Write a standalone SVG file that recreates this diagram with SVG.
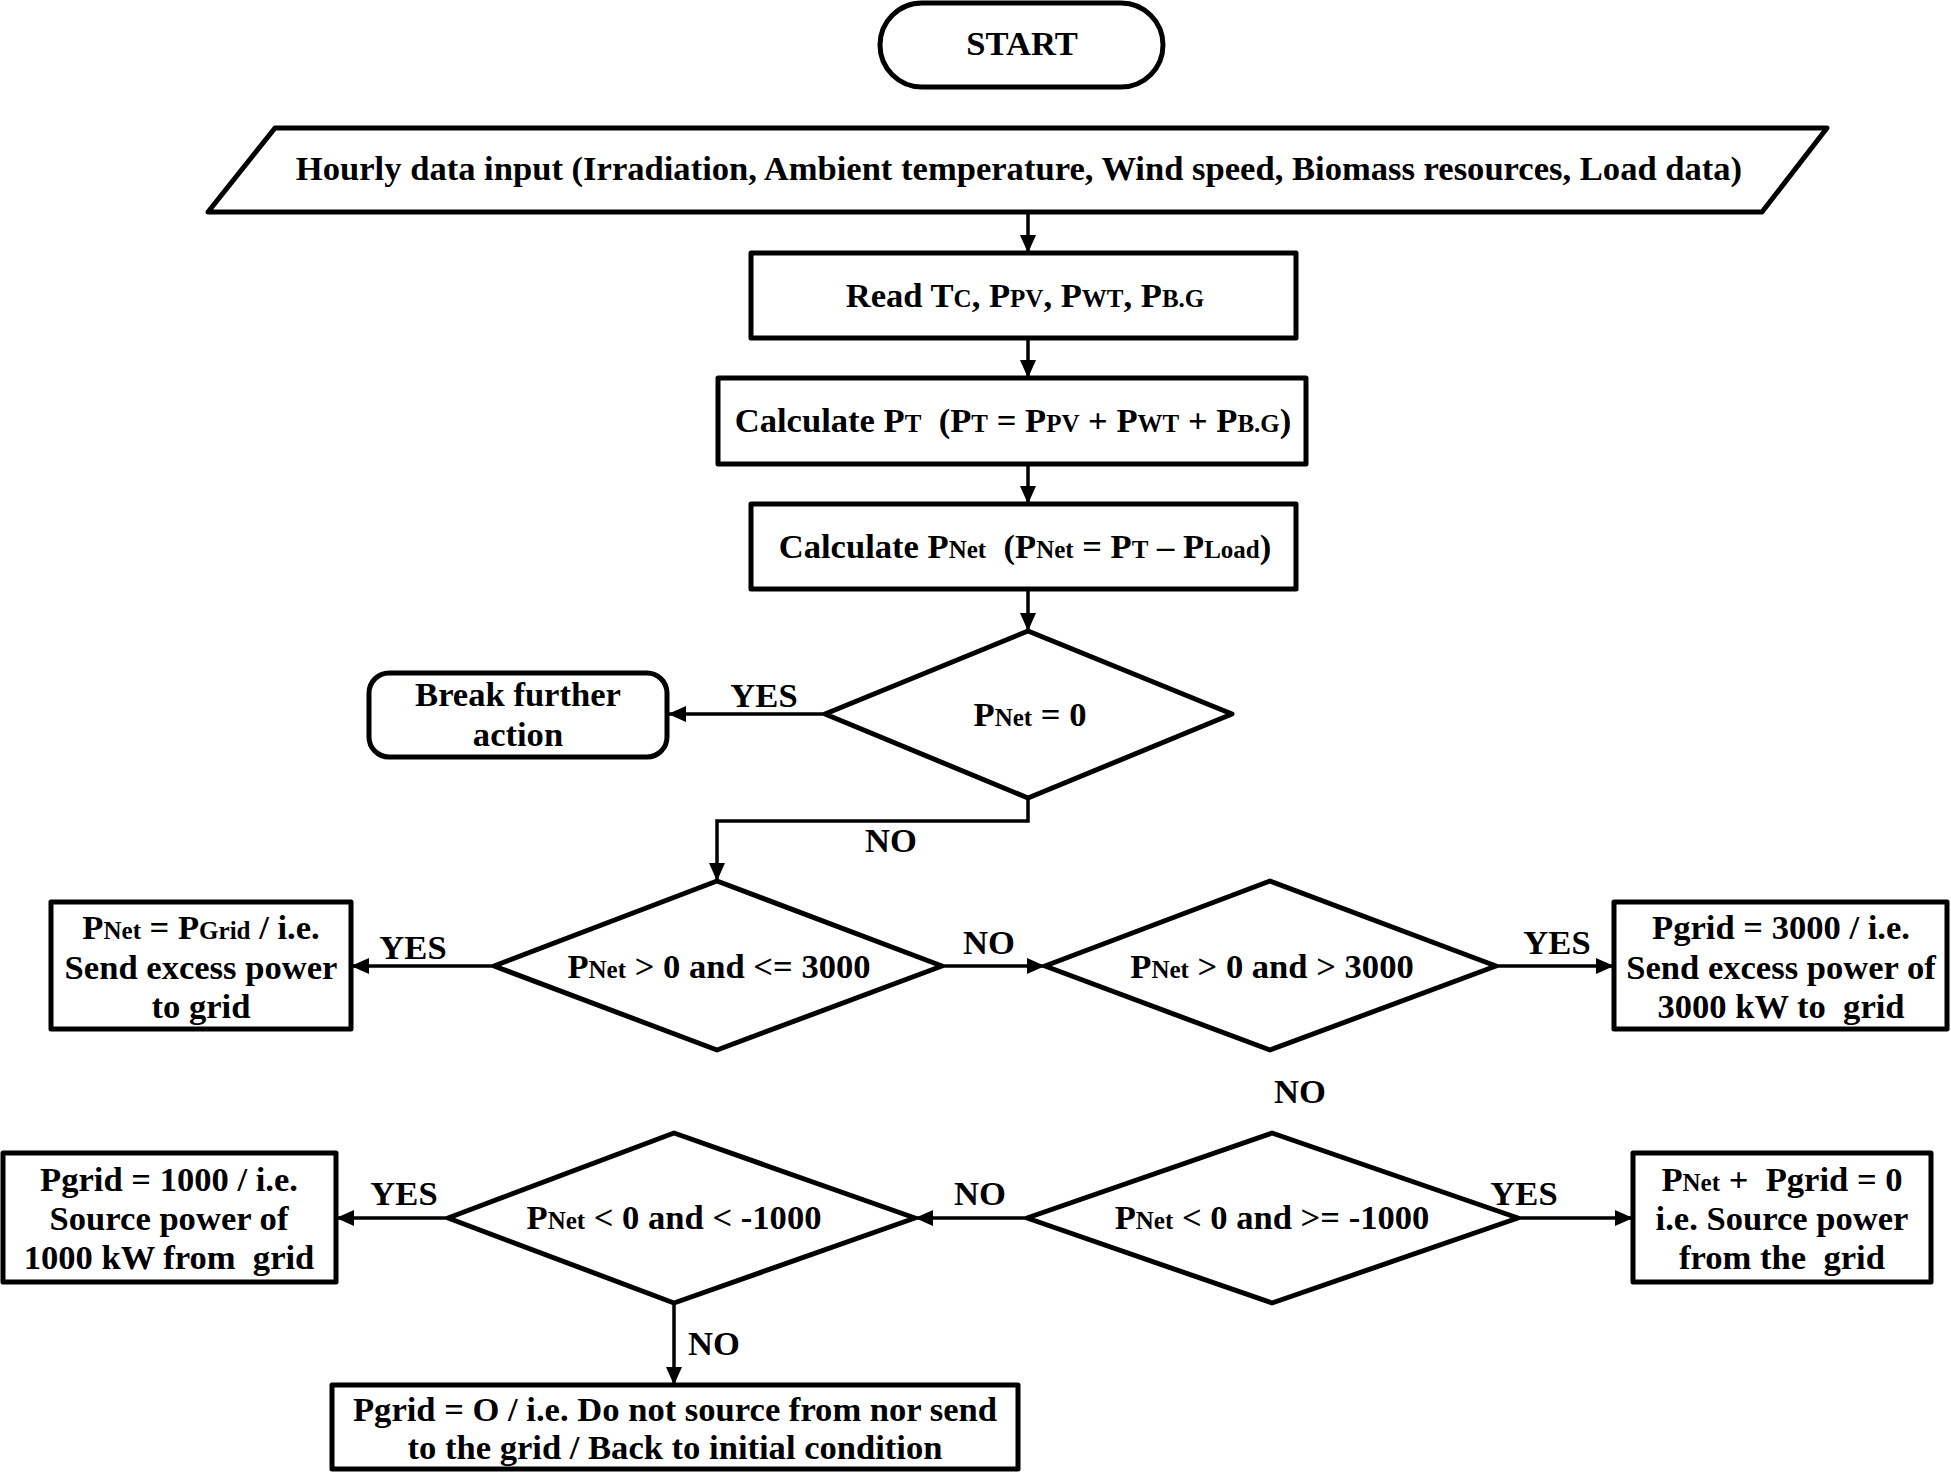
<svg xmlns="http://www.w3.org/2000/svg" width="1951" height="1472" viewBox="0 0 1951 1472">
<style>
  .shape { fill: #ffffff; stroke: #000000; stroke-width: 5; stroke-linejoin: round; }
  .conn { fill: none; stroke: #000000; stroke-width: 3.5; }
  text { font-family: "Liberation Serif", "Times New Roman", serif; font-weight: bold; font-size: 34.6px; fill: #000000; text-anchor: middle; white-space: pre; }
  .sub { font-size: 25px; }
</style>
<defs>
  <marker id="arrow" markerUnits="userSpaceOnUse" markerWidth="18" markerHeight="16" refX="18" refY="8" orient="auto">
    <path d="M0,0 L18,8 L0,16 Z" fill="#000000"/>
  </marker>
</defs>
<rect width="1951" height="1472" fill="#ffffff"/>

<g id="connectors">
  <line class="conn" x1="1028" y1="212" x2="1028" y2="253" marker-end="url(#arrow)"/>
  <line class="conn" x1="1028" y1="338" x2="1028" y2="378" marker-end="url(#arrow)"/>
  <line class="conn" x1="1028" y1="464" x2="1028" y2="504" marker-end="url(#arrow)"/>
  <line class="conn" x1="1028" y1="589" x2="1028" y2="631" marker-end="url(#arrow)"/>
  <line class="conn" x1="825" y1="714" x2="668" y2="714" marker-end="url(#arrow)"/>
  <polyline class="conn" points="1028,798 1028,821 717,821 717,881" marker-end="url(#arrow)"/>
  <line class="conn" x1="494" y1="966" x2="351" y2="966" marker-end="url(#arrow)"/>
  <line class="conn" x1="942" y1="966" x2="1045" y2="966" marker-end="url(#arrow)"/>
  <line class="conn" x1="1496" y1="966" x2="1614" y2="966" marker-end="url(#arrow)"/>
  <line class="conn" x1="1518" y1="1218" x2="1633" y2="1218" marker-end="url(#arrow)"/>
  <line class="conn" x1="1027" y1="1218" x2="915" y2="1218" marker-end="url(#arrow)"/>
  <line class="conn" x1="448" y1="1218" x2="336" y2="1218" marker-end="url(#arrow)"/>
  <line class="conn" x1="674" y1="1302" x2="674" y2="1385" marker-end="url(#arrow)"/>
  <text x="764" y="707">YES</text>
  <text x="891" y="852">NO</text>
  <text x="413" y="959">YES</text>
  <text x="989" y="954">NO</text>
  <text x="1557" y="954">YES</text>
  <text x="1300" y="1103">NO</text>
  <text x="1524" y="1205">YES</text>
  <text x="980" y="1205">NO</text>
  <text x="404" y="1205">YES</text>
  <text x="714" y="1355">NO</text>
</g>

<g id="start">
  <rect class="shape" x="880" y="3" width="283" height="84" rx="42" ry="42"/>
  <text x="1022" y="55">START</text>
</g>

<g id="input">
  <polygon class="shape" points="275,128 1827,128 1762,212 208,212"/>
  <text x="1019" y="180">Hourly data input (Irradiation, Ambient temperature, Wind speed, Biomass resources, Load data)</text>
</g>

<g id="read">
  <rect class="shape" x="751" y="253" width="545" height="85"/>
  <text x="1025" y="307">Read T<tspan class="sub">C</tspan>, P<tspan class="sub">PV</tspan>, P<tspan class="sub">WT</tspan>, P<tspan class="sub">B.G</tspan></text>
</g>

<g id="calc-pt">
  <rect class="shape" x="718" y="378" width="588" height="86"/>
  <text x="1013" y="432">Calculate P<tspan class="sub">T</tspan>  (P<tspan class="sub">T</tspan> = P<tspan class="sub">PV</tspan> + P<tspan class="sub">WT</tspan> + P<tspan class="sub">B.G</tspan>)</text>
</g>

<g id="calc-pnet">
  <rect class="shape" x="751" y="504" width="545" height="85"/>
  <text x="1025" y="558">Calculate P<tspan class="sub">Net</tspan>  (P<tspan class="sub">Net</tspan> = P<tspan class="sub">T</tspan> – P<tspan class="sub">Load</tspan>)</text>
</g>

<g id="dec-zero">
  <polygon class="shape" points="1028,631 1232,714 1028,798 825,714"/>
  <text x="1030" y="726">P<tspan class="sub">Net</tspan> = 0</text>
</g>

<g id="break">
  <rect class="shape" x="369" y="673" width="298" height="84" rx="20" ry="20"/>
  <text x="518" y="706">Break further</text>
  <text x="518" y="746">action</text>
</g>

<g id="dec-pos-le">
  <polygon class="shape" points="717,881 942,966 717,1050 494,966"/>
  <text x="719" y="978">P<tspan class="sub">Net</tspan> &gt; 0 and &lt;= 3000</text>
</g>

<g id="send-excess">
  <rect class="shape" x="51" y="902" width="300" height="127"/>
  <text x="201" y="939">P<tspan class="sub">Net</tspan> = P<tspan class="sub">Grid</tspan> / i.e.</text>
  <text x="201" y="979">Send excess power</text>
  <text x="201" y="1018">to grid</text>
</g>

<g id="dec-pos-gt">
  <polygon class="shape" points="1270,881 1496,966 1270,1050 1045,966"/>
  <text x="1272" y="978">P<tspan class="sub">Net</tspan> &gt; 0 and &gt; 3000</text>
</g>

<g id="send-3000">
  <rect class="shape" x="1614" y="902" width="333" height="127"/>
  <text x="1781" y="939">Pgrid = 3000 / i.e.</text>
  <text x="1781" y="979">Send excess power of</text>
  <text x="1781" y="1018">3000 kW to  grid</text>
</g>

<g id="dec-neg-ge">
  <polygon class="shape" points="1272,1133 1518,1218 1272,1303 1027,1218"/>
  <text x="1272" y="1229">P<tspan class="sub">Net</tspan> &lt; 0 and &gt;= -1000</text>
</g>

<g id="source-grid">
  <rect class="shape" x="1633" y="1153" width="298" height="129"/>
  <text x="1782" y="1191">P<tspan class="sub">Net</tspan> +  Pgrid = 0</text>
  <text x="1782" y="1230">i.e. Source power</text>
  <text x="1782" y="1269">from the  grid</text>
</g>

<g id="dec-neg-lt">
  <polygon class="shape" points="674,1133 915,1218 674,1303 448,1218"/>
  <text x="674" y="1229">P<tspan class="sub">Net</tspan> &lt; 0 and &lt; -1000</text>
</g>

<g id="source-1000">
  <rect class="shape" x="3" y="1153" width="333" height="129"/>
  <text x="169" y="1191">Pgrid = 1000 / i.e.</text>
  <text x="169" y="1230">Source power of</text>
  <text x="169" y="1269">1000 kW from  grid</text>
</g>

<g id="no-exchange">
  <rect class="shape" x="332" y="1385" width="686" height="84"/>
  <text x="675" y="1421">Pgrid = O / i.e. Do not source from nor send</text>
  <text x="675" y="1459">to the grid / Back to initial condition</text>
</g>
</svg>
